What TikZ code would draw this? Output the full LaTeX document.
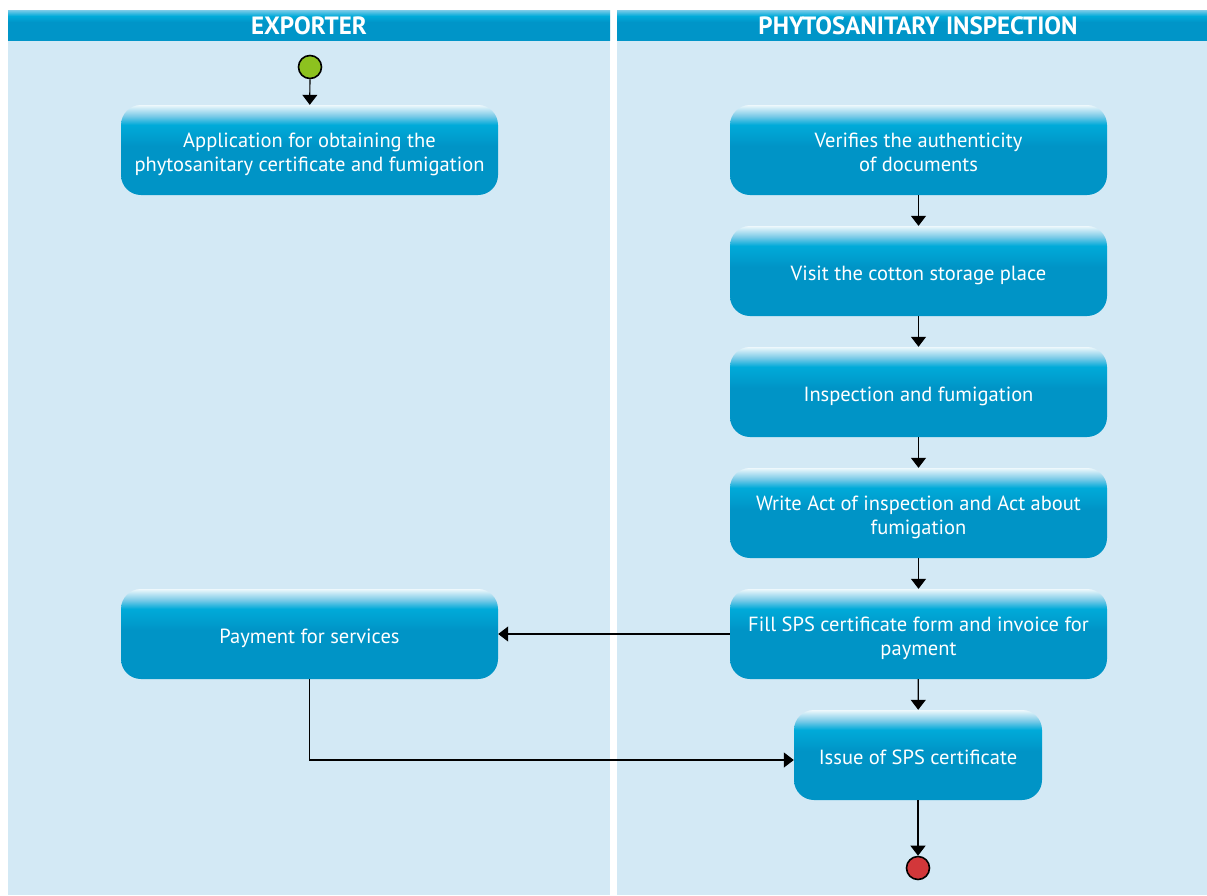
\documentclass[tikz,border=0pt]{standalone}
\usepackage{fontspec}
\setmainfont{PT Sans}
\usetikzlibrary{arrows.meta,positioning}
\definecolor{lanebg}{HTML}{D3E9F5}
\definecolor{bdark}{HTML}{0094C6}
\definecolor{bmid}{HTML}{00AAD9}
\definecolor{blight}{HTML}{7CCBE8}
\definecolor{btop}{HTML}{EEF8FC}
\definecolor{hdark}{HTML}{0095C8}
\definecolor{startgreen}{HTML}{8DC21F}
\definecolor{endred}{HTML}{D2373A}
\pgfdeclareverticalshading{boxshade}{100bp}{color(0bp)=(bdark); color(25bp)=(bdark); color(52bp)=(bdark); color(64bp)=(bmid); color(69bp)=(blight); color(75bp)=(btop); color(100bp)=(btop)}
\pgfdeclareverticalshading{headshade}{100bp}{color(0bp)=(hdark); color(25bp)=(hdark); color(55bp)=(hdark); color(65bp)=(bmid); color(75bp)=(blight); color(100bp)=(blight)}
\newcommand{\boxlbl}[1]{\raisebox{0pt}[\dimexpr\height+10pt\relax][\depth]{\begin{tabular}{@{}c@{}}#1\end{tabular}}}
\tikzset{
  actbox/.style={shade, shading=boxshade, rounded corners=20pt, minimum width=377pt, minimum height=90pt, text=white, font=\fontsize{20.5}{24}\selectfont, inner sep=0pt},
  lane/.style={fill=lanebg, draw=none},
  header/.style={shade, shading=headshade, draw=none},
  htext/.style={text=white, font=\bfseries\fontsize{25}{28}\selectfont},
  flow/.style={line width=1.2pt, -{Triangle[width=15pt,length=10pt]}},
  startnode/.style={circle, draw=black, line width=1.6pt, fill=startgreen, minimum size=23pt, inner sep=0pt},
  endnode/.style={circle, draw=black, line width=1.6pt, fill=endred, minimum size=23pt, inner sep=0pt}
}
\begin{document}
\begin{tikzpicture}[x=1pt,y=-1pt]
\useasboundingbox (0,0) rectangle (1207,895);
\fill[white] (0,0) rectangle (1207,895);
% lanes
\path[lane] (8,40) rectangle (610,895);
\path[lane] (617,40) rectangle (1207,895);
\path[header] (8,10) rectangle (610,40);
\path[header] (617,10) rectangle (1207,40);
\node[htext] (h1) at (309,26) {EXPORTER};
\node[htext] (h2) at (918,26) {PHYTOSANITARY INSPECTION};
% nodes
\node[startnode] (start) at (310,67) {};
\node[actbox] (app) at (309.5,150) {\boxlbl{Application for obtaining the\\phytosanitary certificate and fumigation}};
\node[actbox] (ver) at (918.5,150) {\boxlbl{Verifies the authenticity\\of documents}};
\node[actbox] (visit) at (918.5,271) {\boxlbl{Visit the cotton storage place}};
\node[actbox] (insp) at (918.5,392) {\boxlbl{Inspection and fumigation}};
\node[actbox] (write) at (918.5,513) {\boxlbl{Write Act of inspection and Act about\\fumigation}};
\node[actbox] (fill) at (918.5,634) {\boxlbl{Fill SPS certificate form and invoice for\\payment}};
\node[actbox] (pay) at (309.5,634) {\boxlbl{Payment for services}};
\node[actbox, minimum width=248pt] (issue) at (918,755) {\boxlbl{Issue of SPS certificate}};
\node[endnode] (end) at (918,868) {};
% connectors
\draw[flow] (start) -- (app);
\draw[flow] (ver) -- (visit);
\draw[flow] (visit) -- (insp);
\draw[flow] (insp) -- (write);
\draw[flow] (write) -- (fill);
\draw[flow] (fill) -- (issue);
\draw[flow] (issue) -- (end);
\draw[flow] (fill) -- (pay);
\draw[flow] (pay.south) |- ([yshift=-5pt]issue.west);
\end{tikzpicture}
\end{document}
